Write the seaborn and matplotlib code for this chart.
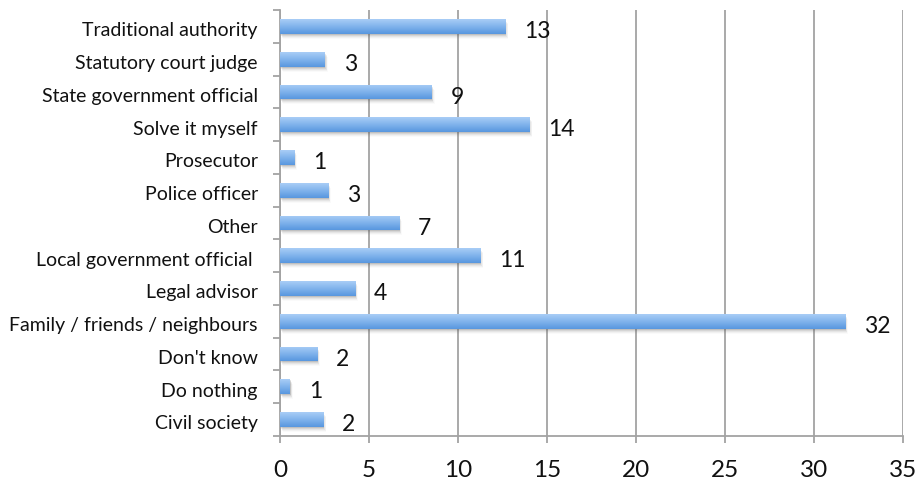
import numpy as np
import pandas as pd
import matplotlib
matplotlib.use("Agg")
import matplotlib.pyplot as plt
import seaborn as sns
from matplotlib.patches import Rectangle
from matplotlib.colors import LinearSegmentedColormap
from matplotlib.transforms import ScaledTranslation

# Where people turn to resolve a dispute (share of respondents, %)
categories = [
    "Traditional authority",
    "Statutory court judge",
    "State government official",
    "Solve it myself",
    "Prosecutor",
    "Police officer",
    "Other",
    "Local government official ",
    "Legal advisor",
    "Family / friends / neighbours",
    "Don't know",
    "Do nothing",
    "Civil society",
]
values = [12.65, 2.52, 8.52, 14.0, 0.79, 2.70, 6.69, 11.25, 4.22, 31.75, 2.08, 0.56, 2.43]
x_ticks = [0, 5, 10, 15, 20, 25, 30, 35]

sns.set_theme(style="white")
plt.rcParams["font.family"] = ["Lato", "DejaVu Sans"]

grid_col = "#a3a3a3"

fig = plt.figure(figsize=(9.18, 4.86), dpi=100)
ax = fig.add_axes([0.305, 0.103, 0.6785, 0.876])

df = pd.DataFrame({"category": categories, "value": values})
sns.barplot(data=df, x="value", y="category", orient="h", color="#78aee9",
            width=0.45, ax=ax, zorder=3, saturation=1)

ax.set_xlim(0, 35)
ax.set_ylim(len(categories) - 0.5, -0.5)

# vertical gradient fill and a soft drop shadow for each bar
grad_cmap = LinearSegmentedColormap.from_list("bar", ["#a9cdf6", "#80b3ec", "#5897df"])
grad = np.linspace(0, 1, 64).reshape(-1, 1)
dx_px = 35 / (0.6785 * 918)
dy_px = len(categories) / (0.876 * 486)
for patch in list(ax.patches):
    x0, y0 = patch.get_x(), patch.get_y()
    w, h = patch.get_width(), patch.get_height()
    for k, a in zip(range(1, 6), [0.16, 0.12, 0.08, 0.05, 0.03]):
        ax.add_patch(Rectangle((x0 + k * dx_px * 0.6, y0 + k * dy_px), w, h,
                               facecolor="#606060", edgecolor="none", alpha=a, zorder=2))
    im = ax.imshow(grad, cmap=grad_cmap, aspect="auto", origin="upper",
                   extent=(x0, x0 + w, y0 + h, y0), zorder=4, interpolation="bilinear")
    im.set_clip_path(patch)
    patch.set_edgecolor("none")

ax.set_xlim(0, 35)
ax.set_ylim(len(categories) - 0.5, -0.5)

# value labels to the right of each bar
for i, v in enumerate(values):
    ax.annotate(f"{round(v)}", xy=(v, i), xytext=(13.5, -2.2), textcoords="offset points",
                ha="left", va="center_baseline", fontsize=16.5, color="#111111", zorder=5)

# axes styling
ax.set_xticks(x_ticks)
ax.set_xticklabels([str(t) for t in x_ticks])
ax.xaxis.grid(True, color=grid_col, linewidth=1.3, zorder=0)
ax.yaxis.grid(False)
ax.set_axisbelow(True)
for side in ["top", "right"]:
    ax.spines[side].set_visible(False)
for side in ["left", "bottom"]:
    ax.spines[side].set_color(grid_col)
    ax.spines[side].set_linewidth(1.3)

ax.set_xlabel("")
ax.set_ylabel("")
ax.tick_params(axis="x", which="major", direction="out", length=5, width=1.3,
               color=grid_col, pad=12, labelsize=17.5, labelcolor="#111111", bottom=True)
ax.tick_params(axis="y", which="major", length=0, pad=16, labelsize=14, labelcolor="#111111")
ax.set_yticks(np.arange(-0.5, len(categories), 1), minor=True)
ax.tick_params(axis="y", which="minor", direction="out", length=5, width=1.3,
               color=grid_col, left=True)

# nudge category labels slightly down
shift = ScaledTranslation(0, -2 / 72, fig.dpi_scale_trans)
for lbl in ax.get_yticklabels():
    lbl.set_transform(lbl.get_transform() + shift)

fig.savefig("out.png", dpi=100)
